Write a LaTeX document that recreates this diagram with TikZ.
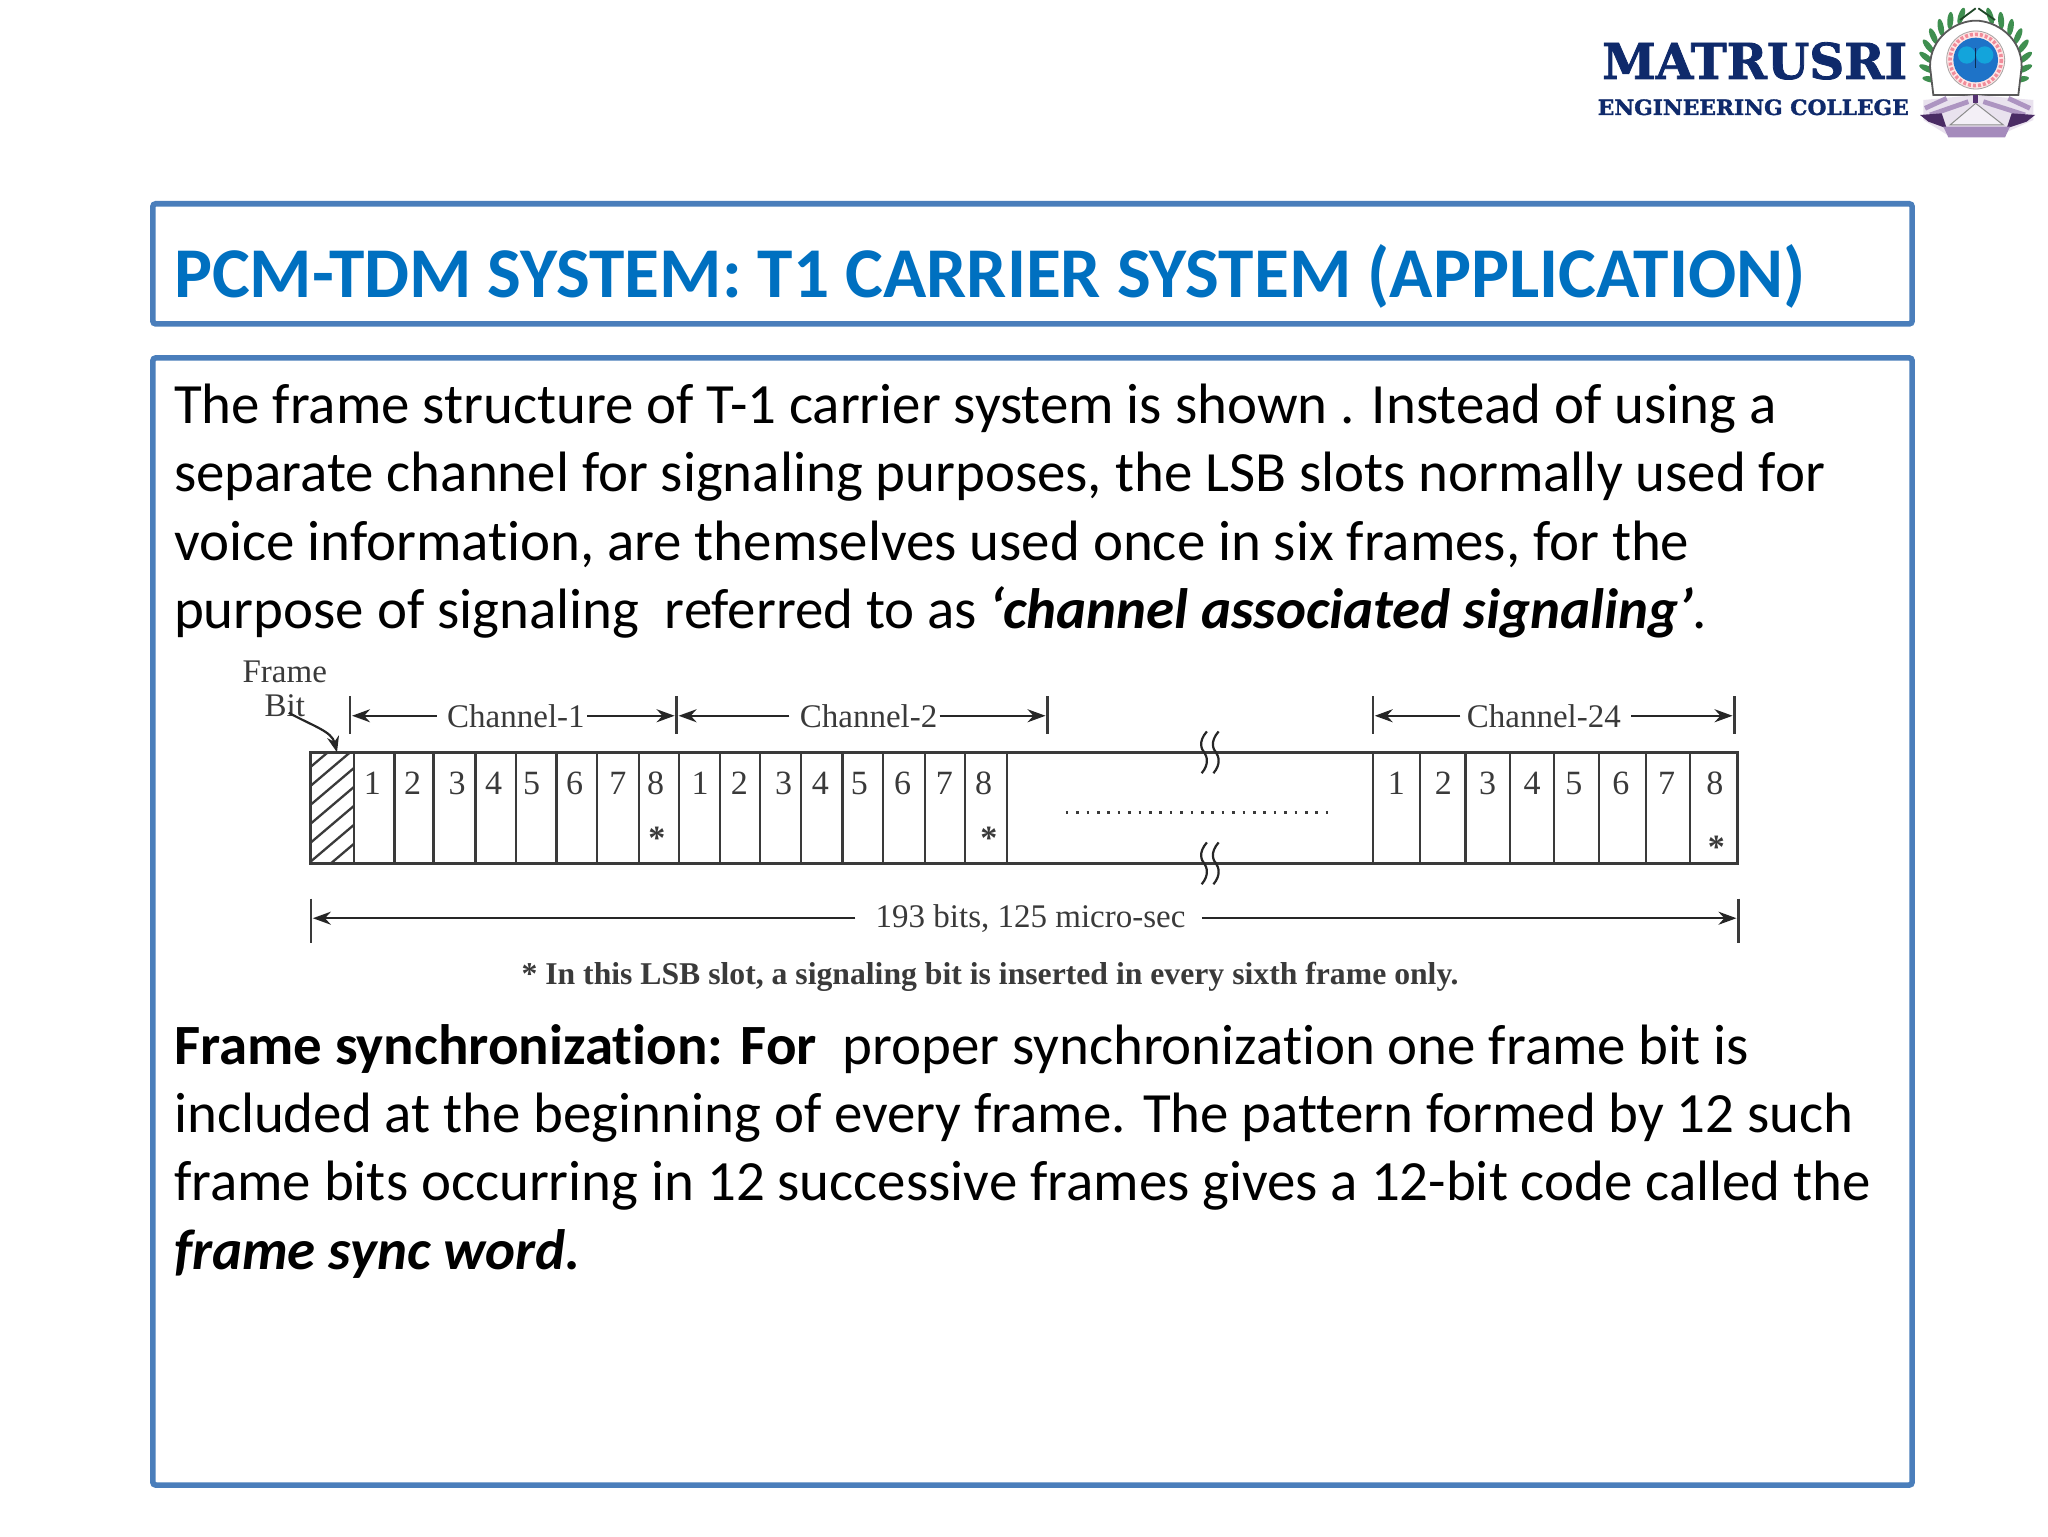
\documentclass[tikz,border=0pt]{standalone}
\usepackage{fontspec}
\usepackage{graphicx}
\setmainfont{Carlito}[Ligatures=CommonOff]
\newfontfamily\diagfont{Liberation Serif}
\newfontfamily\logofont[BoldFeatures={FakeBold=1.6}]{DejaVu Serif}
\usetikzlibrary{arrows.meta}
\definecolor{frameblue}{HTML}{4A7EBB}
\definecolor{titleblue}{HTML}{0070C0}
\definecolor{diagink}{HTML}{3A3A3A}
\definecolor{logonavy}{HTML}{0F2A6B}
\definecolor{leafgreen}{HTML}{3F8F50}
\definecolor{ribbon}{HTML}{6A3D8F}
\definecolor{ringblue}{HTML}{1E73C8}
\tikzset{
  x=0.65306pt,y=-0.65306pt,
  slidebox/.style={draw=frameblue,line width=2.8pt,rounded corners=1.5pt,fill=white,outer sep=0pt},
  bodyline/.style={anchor=base west,inner sep=0pt,font=\fontsize{28.45pt}{34pt}\selectfont,text=black},
  titleline/.style={anchor=base west,inner sep=0pt,font=\fontsize{35.7pt}{40pt}\selectfont\bfseries,text=titleblue},
  diaglabel/.style={inner sep=0pt,text=diagink,font=\fontsize{16.5pt}{20pt}\selectfont\diagfont},
  cellnum/.style={inner sep=0pt,text=diagink,font=\fontsize{17pt}{20pt}\selectfont\diagfont},
  frameline/.style={draw=diagink,line width=1.5pt},
  thinline/.style={draw=diagink,line width=1.15pt},
  dimarrow/.style={draw=black!85,line width=1.1pt,-{Stealth[length=9pt,width=6.5pt]}},
}
\begin{document}
\begin{tikzpicture}
\useasboundingbox (0,0) rectangle (1568,1176);
\fill[white] (0,0) rectangle (1568,1176);

% slide boxes
\node[slidebox,minimum width=1347*0.65306pt,minimum height=92*0.65306pt,anchor=north west] (titlebox) at (117,156) {};
\node[slidebox,minimum width=1347*0.65306pt,minimum height=863*0.65306pt,anchor=north west] (bodybox) at (117,274) {};

\node[titleline] (title) at (133,228) {PCM-TDM SYSTEM: T1 CARRIER SYSTEM (APPLICATION)};

\node[bodyline] (l1) at (133,324) {The frame structure of T-1 carrier system is shown . Instead of using a};
\node[bodyline] (l2) at (133,376) {separate channel for signaling purposes, the LSB slots normally used for};
\node[bodyline] (l3) at (133,429) {voice information, are themselves used once in six frames, for the};
\node[bodyline] (l4) at (133,481) {purpose of signaling\ \ referred to as \textbf{\textit{‘channel associated signaling’}}.};

\node[bodyline] (p1) at (133,815) {\textbf{Frame synchronization: For}\ \ proper synchronization one frame bit is};
\node[bodyline] (p2) at (133,867) {included at the beginning of every frame. The pattern formed by 12 such};
\node[bodyline] (p3) at (133,919) {frame bits occurring in 12 successive frames gives a 12-bit code called the};
\node[bodyline] (p4) at (133,972) {\textbf{\textit{frame sync word.}}};

% --- frame diagram ---
% hatched frame bit
\begin{scope}
\clip (238,576) rectangle (271,661);
\foreach \k in {0,...,8} {
  \draw[thinline] (238,{587+\k*14.5}) -- (271,{587+\k*14.5-28});
}
\end{scope}
% outer frame
\draw[frameline] (238,576) rectangle (1330,661);
% dividers and numbers
\foreach \a/\b/\n/\c in {271/302/1/285,302/332/2/316,332/364/3/350,364/395/4/378,395/426/5/407,426/457/6/440,457/489/7/473,489/520/8/502,
                      520/551/1/536,551/582/2/566,582/613/3/600,613/645/4/628,645/676/5/658,676/708/6/691,708/739/7/723,739/771/8/753,
                      1051/1087/1/1069,1087/1122/2/1105,1122/1156/3/1139,1156/1190/4/1173,1190/1224/5/1205,1224/1260/6/1241,1260/1294/7/1276,1294/1330/8/1313} {
  \draw[thinline] (\a,576) -- (\a,661);
  \node[cellnum] (num-\a) at (\c,600) {\n};
}
\draw[thinline] (271,576) -- (271,661);
\draw[thinline] (771,576) -- (771,661);
% stars
\node[cellnum,font=\fontsize{17pt}{20pt}\selectfont\diagfont\bfseries] (star1) at (503,642) {*};
\node[cellnum,font=\fontsize{17pt}{20pt}\selectfont\diagfont\bfseries] (star2) at (757,642) {*};
\node[cellnum,font=\fontsize{17pt}{20pt}\selectfont\diagfont\bfseries] (star3) at (1314,649) {*};
% dotted
\coordinate (dotA) at (816,622);
\coordinate (dotB) at (1022,622);
\draw[draw=diagink,line width=1.2pt,dash pattern=on 1.3pt off 3.9pt] (dotA) -- (dotB);
% break marks
\foreach \yy in {560,645} {
  \foreach \xx in {922,931} {
    \draw[draw=black!85,line width=1.1pt] (\xx+2,\yy) .. controls (\xx-5,\yy+8) and (\xx-2,\yy+14) .. (\xx,\yy+16) .. controls (\xx+2,\yy+19) and (\xx+4,\yy+25) .. (\xx-2,\yy+32);
  }
}
% channel ticks and arrows
\foreach \nm/\xx in {t1/268,t2/518,t3/802,t4/1051,t5/1328} {
  \coordinate (\nm-top) at (\xx,533);
  \coordinate (\nm-bot) at (\xx,562);
  \coordinate (\nm) at (\xx,548);
  \draw[thinline] (\nm-top) -- (\nm-bot);
}
\node[diaglabel] (ch1) at (395,548) {Channel-1};
\node[diaglabel] (ch2) at (665,548) {Channel-2};
\node[diaglabel] (ch24) at (1182,548) {Channel-24};
\draw[dimarrow] ([xshift=-5pt]ch1.west) -- ([xshift=1pt]t1);
\draw[dimarrow] ([xshift=1pt]ch1.east) -- ([xshift=-1pt]t2);
\draw[dimarrow] ([xshift=-5pt]ch2.west) -- ([xshift=1pt]t2);
\draw[dimarrow] ([xshift=1pt]ch2.east) -- ([xshift=-1pt]t3);
\draw[dimarrow] ([xshift=-3pt]ch24.west) -- ([xshift=1pt]t4);
\draw[dimarrow] ([xshift=5pt]ch24.east) -- ([xshift=-1pt]t5);
% total arrow
\coordinate (tL-top) at (238,688);\coordinate (tL-bot) at (238,722);\coordinate (tL) at (238,703);
\coordinate (tR-top) at (1331,688);\coordinate (tR-bot) at (1331,722);\coordinate (tR) at (1331,703);
\draw[thinline] (tL-top) -- (tL-bot);
\draw[thinline] (tR-top) -- (tR-bot);
\node[diaglabel] (total) at (789,703) {193 bits, 125 micro-sec};
\draw[dimarrow] ([xshift=-10pt]total.west) -- ([xshift=1pt]tL);
\draw[dimarrow] ([xshift=8pt]total.east) -- ([xshift=-1pt]tR);
\node[diaglabel,font=\fontsize{15.85pt}{18pt}\selectfont\diagfont\bfseries] (note) at (758,748) {* In this LSB slot, a signaling bit is inserted in every sixth frame only.};
% frame bit label
\node[diaglabel] (fb1) at (218,514) {Frame};
\node[diaglabel] (fb2) at (218,540) {Bit};
\coordinate (fbTip) at (258,576);
\draw[draw=black!85,line width=1.1pt,-{Stealth[length=8pt,width=6pt]}] (fb2.south) ++(2pt,2pt) .. controls (240,556) and (254,560) .. (fbTip);

% --- logo ---
\begin{scope}[shift={(1209.7,0)},x=0.16666pt,y=-0.16666pt]
  \node[anchor=south west,inner sep=0pt,text=logonavy] (logoA) at (65,240) {\resizebox{152.5pt}{18.3pt}{\logofont\bfseries MATRUSRI}};
  \node[anchor=south west,inner sep=0pt,text=logonavy] (logoB) at (52,347) {\resizebox{155.5pt}{7.8pt}{\logofont\bfseries ENGINEERING COLLEGE}};
  % wreath: outward-slanted leaves
  \foreach \ang in {-25,-11,...,75} {
    \fill[leafgreen,rotate around={\ang+35:(1187+148*cos \ang,180-138*sin \ang)}] (1187+148*cos \ang,180-138*sin \ang) ellipse (26 and 9);
    \fill[leafgreen,rotate around={-\ang-35:(1187-148*cos \ang,180-138*sin \ang)}] (1187-148*cos \ang,180-138*sin \ang) ellipse (26 and 9);
  }
  \draw[leafgreen!50!black,line width=0.9pt] (1187,25) -- (1140,60) (1195,25) -- (1245,60);
  % arch
  \fill[white,draw=black!65,line width=0.9pt] (1060,285) -- (1050,200) .. controls (1050,110) and (1130,62) .. (1187,62) .. controls (1245,62) and (1325,110) .. (1325,200) -- (1315,285) -- cycle;
  % ring
  \fill[white!90!red] (1187,180) circle (88);
  \draw[red!50!purple!45,line width=1.8pt,dash pattern=on 1.5pt off 1pt] (1187,180) circle (77);
  \draw[black!35,line width=0.4pt] (1187,180) circle (87);
  % globe
  \fill[ringblue] (1187,180) circle (67);
  \fill[ringblue!65!cyan] (1160,165) circle (26);
  \fill[ringblue!65!cyan] (1214,165) circle (26);
  \draw[ringblue!40!black,line width=0.8pt] (1187,145) -- (1187,205);
  % ribbons
  \fill[white!85!ribbon] (1030,300) -- (1187,285) -- (1360,300) -- (1360,360) -- (1250,410) -- (1110,410) -- (1030,360) -- cycle;
  \draw[ribbon!55,line width=2.4pt] (1035,325) -- (1100,295) (1050,345) -- (1165,305) (1350,325) -- (1285,295) (1335,345) -- (1210,305);
  \fill[ribbon!70!black] (1020,345) -- (1085,340) -- (1100,385) -- (1045,365) -- cycle;
  \fill[ribbon!70!black] (1365,345) -- (1295,340) -- (1280,385) -- (1340,365) -- cycle;
  \fill[ribbon!60] (1090,380) -- (1290,380) -- (1275,412) -- (1105,412) -- cycle;
  \fill[white!92!ribbon,draw=black!45,line width=0.5pt] (1187,310) -- (1270,375) -- (1110,375) -- cycle;
  \fill[ribbon!80!black] (1180,285) rectangle (1195,310);
\end{scope}
\end{tikzpicture}
\end{document}
